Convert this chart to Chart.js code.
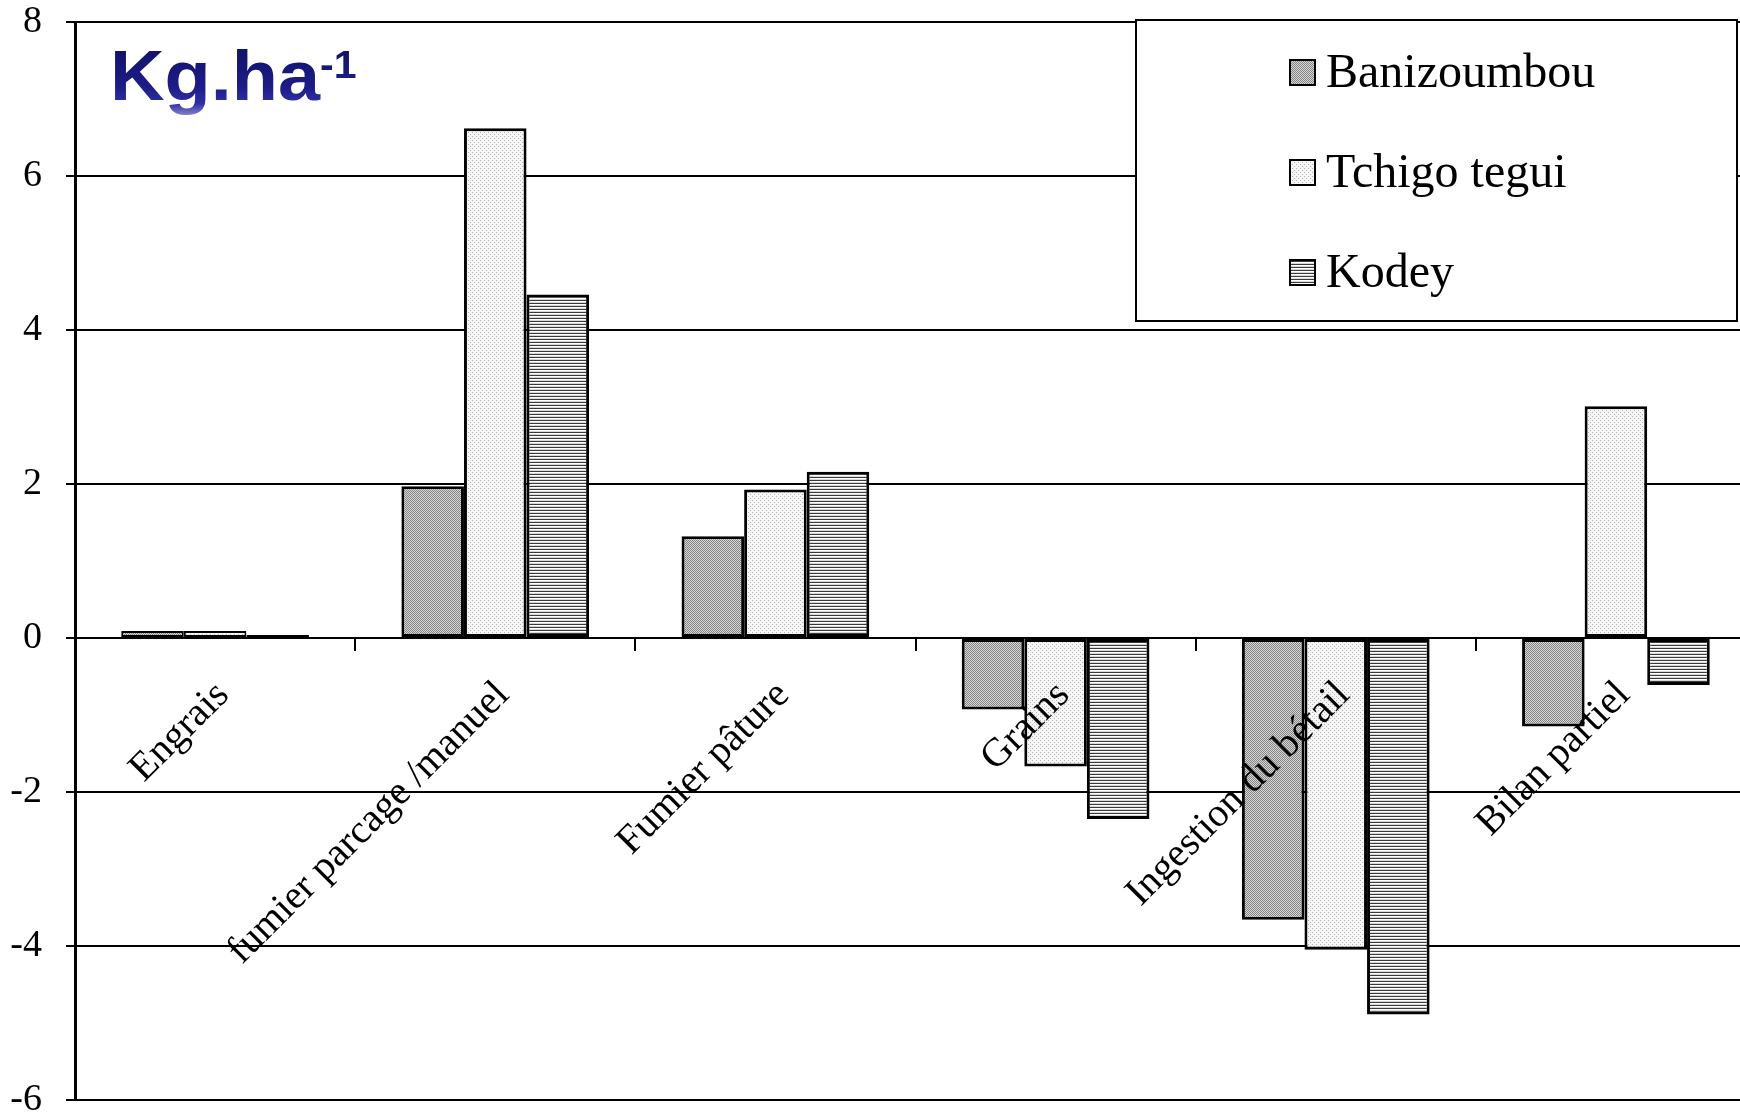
<!DOCTYPE html>
<html>
<head>
<meta charset="utf-8">
<script src="https://cdn.jsdelivr.net/npm/chart.js@4.4.1/dist/chart.umd.min.js"></script>
<style>
  html, body { margin: 0; padding: 0; overflow: hidden; background: #fff; width: 1740px; height: 1118px; }
  #chart { position: absolute; left: 0; top: 0; }
</style>
</head>
<body>
<canvas id="chart" width="1758" height="1140"></canvas>
<script>
// Nitrogen flows per village, kg/ha
const categories = ['Engrais', 'fumier parcage /manuel', 'Fumier pâture', 'Grains', 'Ingestion du bétail', 'Bilan partiel'];
const seriesNames = ['Banizoumbou', 'Tchigo tegui', 'Kodey'];
const banizoumbou = [0.09, 1.97, 1.32, -0.93, -3.66, -1.15];
const tchigoTegui = [0.09, 6.62, 1.93, -1.67, -4.05, 3.01];
const kodey = [0.04, 4.46, 2.16, -2.35, -4.89, -0.61];
const yTickValues = [-6, -4, -2, 0, 2, 4, 6, 8];
const unitLabel = 'Kg.ha';
const unitExponent = '-1';

const canvas = document.getElementById('chart');
const ctx = canvas.getContext('2d');

// Small repeating fills in the style of monochrome print hatching
function makePattern(w, h, paint) {
  const c = document.createElement('canvas');
  c.width = w; c.height = h;
  paint(c.getContext('2d'));
  return ctx.createPattern(c, 'repeat');
}
const checkerGray = makePattern(4, 4, g => {
  g.fillStyle = '#d6d6d6'; g.fillRect(0, 0, 4, 4);
  g.fillStyle = '#858585';
  for (let y = 0; y < 4; y++) for (let x = 0; x < 4; x++) if ((x + y) % 2 === 0) g.fillRect(x, y, 1, 1);
});
const lightDots = makePattern(4, 4, g => {
  g.fillStyle = '#f6f6f6'; g.fillRect(0, 0, 4, 4);
  g.fillStyle = '#b4b4b4';
  g.fillRect(0, 0, 1, 1); g.fillRect(2, 2, 1, 1);
});
const hStripes = makePattern(2, 3, g => {
  g.fillStyle = '#ffffff'; g.fillRect(0, 0, 2, 3);
  g.fillStyle = '#3a3a3a'; g.fillRect(0, 0, 2, 1);
  g.fillStyle = '#d8d8d8'; g.fillRect(0, 2, 2, 1);
});
const fills = [checkerGray, lightDots, hStripes];

const serif = '"Liberation Serif", "Times New Roman", serif';

// Unit title and boxed legend drawn on top of the plot
const overlay = {
  id: 'overlay',
  afterDraw(chart) {
    const c = chart.ctx;
    c.save();
    // unit title
    c.save();
    c.translate(110, 100);
    c.scale(1.08, 1);
    const grad = c.createLinearGradient(0, -52, 0, 18);
    grad.addColorStop(0, '#12126a');
    grad.addColorStop(0.55, '#1c1c86');
    grad.addColorStop(0.8, '#3030a6');
    grad.addColorStop(1, '#9a9ad0');
    c.fillStyle = grad;
    c.font = 'bold 70px "Liberation Sans", Arial, sans-serif';
    c.textBaseline = 'alphabetic';
    c.textAlign = 'left';
    c.fillText(unitLabel, 0, 0);
    const w = c.measureText(unitLabel).width;
    c.font = 'bold 38px "Liberation Sans", Arial, sans-serif';
    c.fillText(unitExponent, w, -22);
    c.restore();

    // legend box
    const bx = 1136, by = 20, bw = 601, bh = 301;
    c.fillStyle = '#fff';
    c.fillRect(bx, by, bw, bh);
    c.lineWidth = 2;
    c.strokeStyle = '#000';
    c.strokeRect(bx, by, bw, bh);
    c.font = '48px ' + serif;
    c.textBaseline = 'middle';
    c.textAlign = 'left';
    chart.data.datasets.forEach((ds, i) => {
      const cy = 72 + i * 100;
      c.fillStyle = ds.backgroundColor;
      c.fillRect(1290, cy - 12, 25, 25);
      c.lineWidth = 2;
      c.strokeStyle = '#000';
      c.strokeRect(1290, cy - 12, 25, 25);
      c.fillStyle = '#000';
      c.fillText(ds.label, 1326, cy + 2);
    });
    c.restore();
  }
};

new Chart(canvas, {
  type: 'bar',
  data: {
    labels: categories,
    datasets: [
      { label: seriesNames[0], data: banizoumbou },
      { label: seriesNames[1], data: tchigoTegui },
      { label: seriesNames[2], data: kodey }
    ].map((d, i) => Object.assign(d, {
      backgroundColor: fills[i],
      borderColor: '#000',
      // very short bars keep a thin outline so their fill stays visible
      borderWidth: c => (Math.abs(c.raw) < 0.2 ? 2 : 3),
      borderSkipped: false,
      categoryPercentage: 0.67,
      barPercentage: 1.0
    }))
  },
  options: {
    responsive: false,
    animation: false,
    devicePixelRatio: 1,
    layout: { padding: { top: 22, bottom: 40, left: 0, right: 2 } },
    plugins: { legend: { display: false }, tooltip: { enabled: false } },
    scales: {
      x: {
        position: { y: 0 },
        offset: true,
        afterFit: s => { s.paddingLeft = 0; s.paddingRight = 0; s.paddingTop = 0; s.paddingBottom = 0; },
        grid: { display: true, drawOnChartArea: false, drawTicks: true, tickLength: 12, color: '#000', lineWidth: 2, offset: true },
        border: { display: true, color: '#000', width: 2 },
        ticks: {
          z: 1,
          autoSkip: false, minRotation: 45, maxRotation: 45, padding: 22, labelOffset: 8,
          color: '#000', font: { family: serif, size: 40 }
        }
      },
      y: {
        min: -6, max: 8,
        afterBuildTicks: s => { s.ticks = yTickValues.map(v => ({ value: v })); },
        afterFit: s => { s.width = 75; s.paddingTop = 0; s.paddingBottom = 0; },
        grid: { color: '#000', lineWidth: 2, drawTicks: true, tickLength: 9 },
        border: { display: true, color: '#000', width: 3 },
        ticks: { color: '#000', padding: 24, font: { family: serif, size: 38 } }
      }
    }
  },
  plugins: [overlay]
});
</script>
</body>
</html>
